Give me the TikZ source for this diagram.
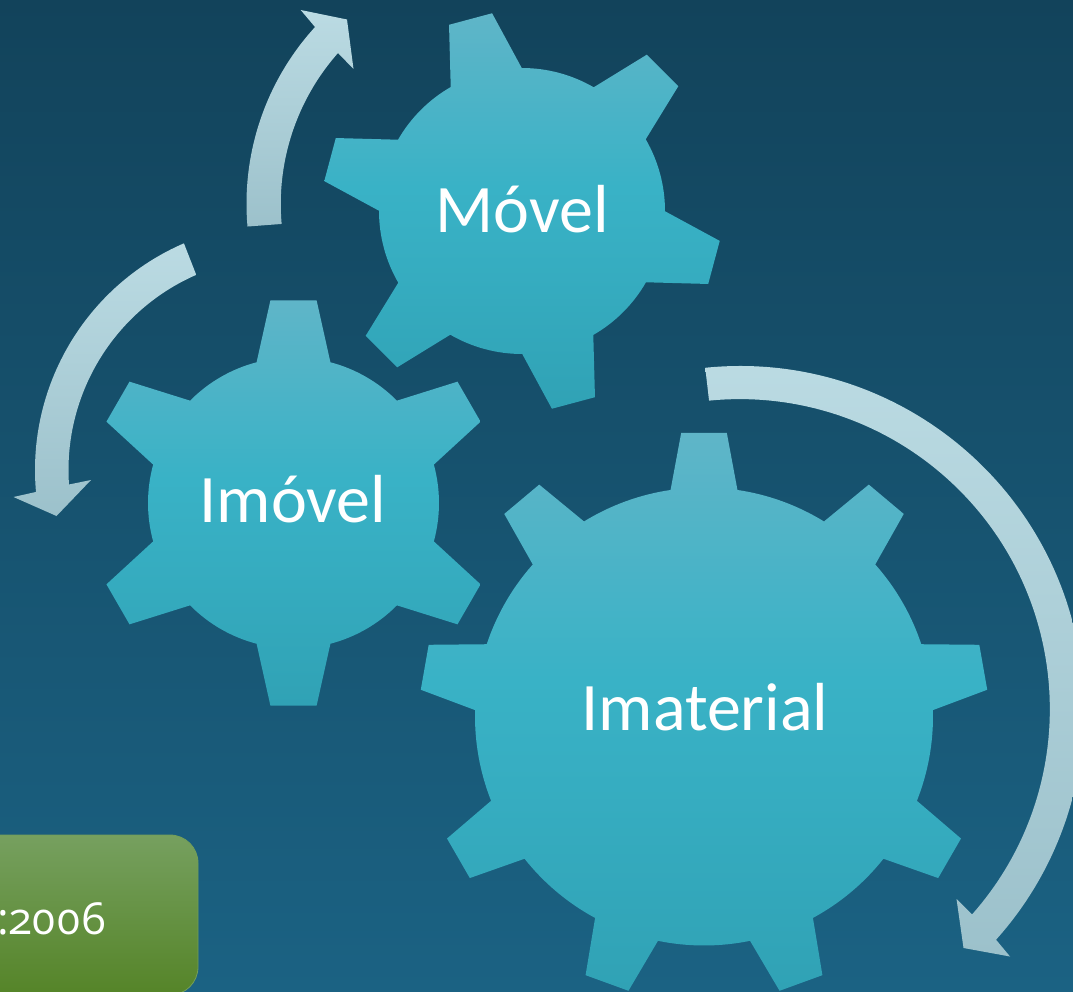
\documentclass[tikz,border=0pt]{standalone}
\usepackage{fontspec}
\setmainfont{Carlito}
\newfontfamily\oldnum[Numbers=OldStyle]{Open Sans}
\definecolor{gearA}{HTML}{5FB5C8}
\definecolor{gearB}{HTML}{39B2C6}
\definecolor{gearC}{HTML}{30A2B5}
\definecolor{arrA}{HTML}{BBDBE3}
\definecolor{arrB}{HTML}{B0D3DC}
\definecolor{arrC}{HTML}{9CC1CB}
\definecolor{bgA}{HTML}{12435B}
\definecolor{bgB}{HTML}{13465F}
\definecolor{bgC}{HTML}{1B6283}
\definecolor{boxA}{HTML}{76A05F}
\definecolor{boxB}{HTML}{5E9135}
\definecolor{boxC}{HTML}{558428}
\pgfdeclareverticalshading{gearsh}{100bp}{color(0bp)=(gearC); color(25bp)=(gearC); color(42bp)=(gearB!65!gearC); color(53bp)=(gearB); color(75bp)=(gearA); color(100bp)=(gearA)}
\tikzset{
  gearbody/.style={shading=gearsh,draw=none},
  arrowbody/.style={top color=arrA,middle color=arrB,bottom color=arrC,draw=none},
  gearlabel/.style={text=white,font=\fontsize{68}{68}\selectfont,inner sep=0pt},
}
\newcommand{\gearshape}[8]{% cx cy teeth phase r R basehalf tiphalf
  \shade[gearbody,shift={(#1,#2)}]
    ({#4-#7}:#5)
    \foreach \i in {1,...,#3} {
      -- ({#4+(\i-1)*360/#3-#8}:#6)
      -- ({#4+(\i-1)*360/#3+#8}:#6)
      -- ({#4+(\i-1)*360/#3+#7}:#5)
      arc[start angle={#4+(\i-1)*360/#3+#7},end angle={#4+\i*360/#3-#7},radius=#5]
    } -- cycle;
}
\begin{document}
\begin{tikzpicture}[x=1pt,y=1pt,yscale=-1]
\useasboundingbox (0,0) rectangle (1073,992);
\clip (0,0) rectangle (1073,992);
\shade[top color=bgA,middle color=bgB,bottom color=bgC] (0,0) rectangle (1073,992);

% green box
\shade[top color=boxA,middle color=boxB,bottom color=boxC,rounded corners=28pt]
  (-40,835) rectangle (198,995);
\draw[color=boxA!85!boxB,line width=0.8pt,rounded corners=28pt] (-40,835) rectangle (198,995);
\node[text=white,font=\oldnum\fontsize{44}{44}\selectfont,inner sep=0pt,anchor=east] (yr) at (107,919) {:2006};

% gears
\gearshape{704}{716.5}{9}{-90}{229}{284.5}{8.4}{4.6}
\gearshape{293.5}{503}{6}{-90}{145.5}{204}{14.7}{6.5}
\gearshape{522}{211}{6}{-105}{143}{200}{14.9}{6.4}

\node[gearlabel] (movel) at (522,209) {Móvel};
\node[gearlabel] (imovel) at (293,499) {Imóvel};
\node[gearlabel] (imaterial) at (705,707) {Imaterial};

% arrows
\shade[arrowbody,shift={(508.5,203.7)}]
  (175:262) arc[start angle=175,end angle=222.4,radius=262]
  -- (-207.8,-193.7) -- (-161.5,-184.2) -- (-155,-134.7) -- (-170.5,-150.7)
  arc[start angle=221.5,end angle=175,radius=228] -- cycle;
\shade[arrowbody,shift={(282,470)}]
  (246.6:247) arc[start angle=246.6,end angle=174.9,radius=247]
  -- (-268.5,27) -- (-225.5,46) -- (-191,10) -- (-213,14.5)
  arc[start angle=176.1,end angle=246.4,radius=213] -- cycle;
\shade[arrowbody,shift={(740,710)}]
  (-95.8:344) arc[start angle=-95.8,end angle=41.9,radius=344]
  -- (270,246.5) -- (223.5,238) -- (216.5,189) -- (232,204.5)
  arc[start angle=41.5,end angle=-95.7,radius=310] -- cycle;
\end{tikzpicture}
\end{document}
